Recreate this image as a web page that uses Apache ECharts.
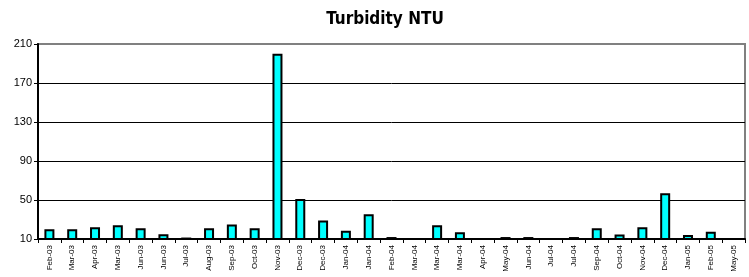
<!DOCTYPE html>
<html><head><meta charset="utf-8">
<script src="https://cdn.jsdelivr.net/npm/echarts@6/dist/echarts.min.js"></script>
<style>html,body{margin:0;padding:0;background:#fff}#c{width:749px;height:277px}</style>
</head><body><div id="c"></div>
<script>
var categories = ["Feb-03","Mar-03","Apr-03","Mar-03","Jun-03","Jun-03","Jul-03","Aug-03","Sep-03","Oct-03","Nov-03","Dec-03","Dec-03","Jan-04","Jan-04","Feb-04","Mar-04","Mar-04","Mar-04","Apr-04","May-04","Jun-04","Jul-04","Jul-04","Sep-04","Oct-04","Nov-04","Dec-04","Jan-05","Feb-05","May-05"];
var turbidity = [20,20,22,24,21,15,11.5,21,25,21,200,51,29,18.5,35.5,12,null,24,17,null,12,12,null,12,21,14.5,22,57,14,17.5,null];
var yTicks = [10,50,90,130,170,210];

var chart = echarts.init(document.getElementById('c'));
chart.setOption({
  animation:false,
  title:{text:'Turbidity NTU',left:380,top:6,textAlign:'center',
    textStyle:{fontFamily:'DejaVu Sans Condensed',fontWeight:'bold',fontSize:17,color:'#000'}},
  grid:{left:38,right:4,top:44,bottom:38,show:true,borderColor:'#808080',borderWidth:2},
  xAxis:{type:'category',data:categories,
    axisLine:{lineStyle:{color:'#000',width:2}},
    axisTick:{show:true,interval:0,length:4,lineStyle:{color:'#000'}},
    axisLabel:{interval:0,rotate:90,fontSize:8,fontFamily:'Liberation Sans',color:'#000',margin:6}},
  yAxis:{type:'value',min:yTicks[0],max:yTicks[yTicks.length-1],interval:40,
    axisLine:{show:true,lineStyle:{color:'#000',width:2}},
    axisTick:{show:true,length:4,lineStyle:{color:'#000'}},
    axisLabel:{fontSize:11,fontFamily:'Liberation Sans',color:'#000',margin:6},
    splitLine:{show:true,lineStyle:{color:['#000','#000','#000','#000','#000','#808080'],width:1}}},
  series:[{type:'bar',data:turbidity,barWidth:10,
    itemStyle:{color:'#00FFFF',borderColor:'#000',borderWidth:2}}]
});
</script></body></html>
